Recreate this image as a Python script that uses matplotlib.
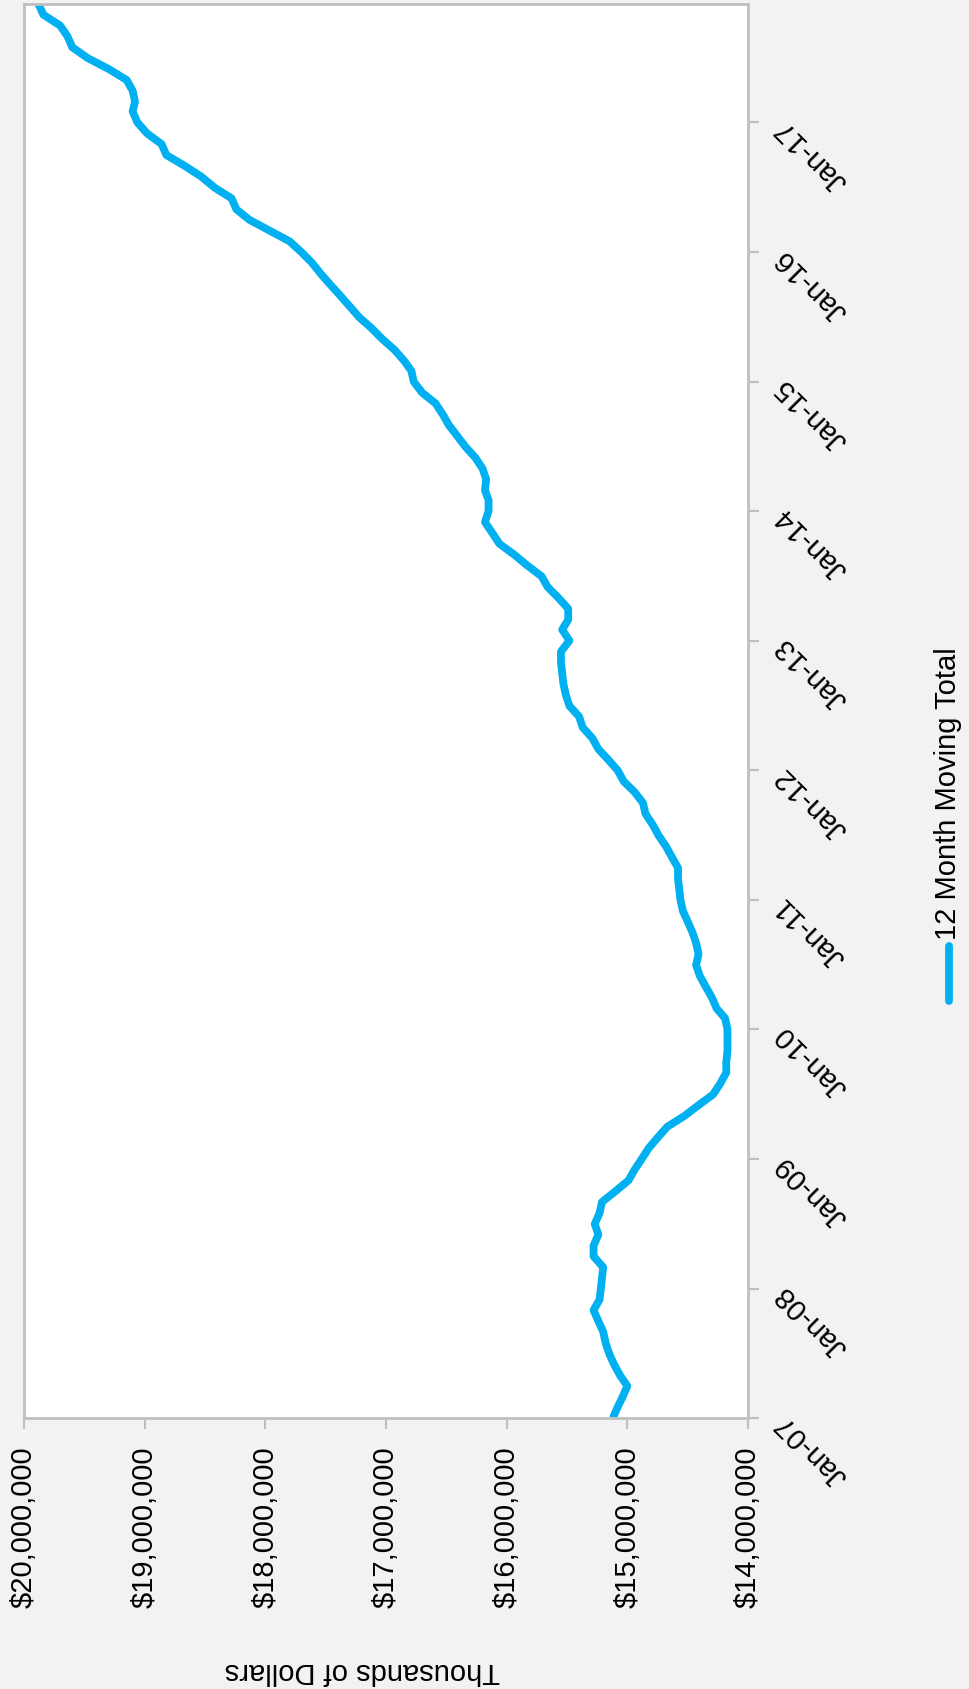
import numpy as np
import pandas as pd
import matplotlib
matplotlib.use("Agg")
import matplotlib.pyplot as plt
import matplotlib.dates as mdates
from matplotlib.ticker import FuncFormatter, MultipleLocator
from matplotlib.lines import Line2D

# 12 month moving total, millions of dollars, monthly Jan-2007 .. Dec-2017
moving_total_m = [
    15.12, 15.08, 15.04, 15.00, 15.06, 15.11, 15.15, 15.18, 15.20, 15.24, 15.28, 15.23,
    15.22, 15.21, 15.20, 15.28, 15.28, 15.24, 15.27, 15.23, 15.21, 15.10, 14.99, 14.94,
    14.88, 14.82, 14.75, 14.67, 14.53, 14.41, 14.29, 14.23, 14.18, 14.18, 14.17, 14.17,
    14.17, 14.19, 14.26, 14.30, 14.35, 14.40, 14.43, 14.41, 14.43, 14.46, 14.50, 14.54,
    14.56, 14.57, 14.58, 14.58, 14.63, 14.68, 14.74, 14.79, 14.85, 14.87, 14.94, 15.03,
    15.08, 15.16, 15.24, 15.29, 15.37, 15.40, 15.48, 15.51, 15.53, 15.54, 15.55, 15.55,
    15.48, 15.54, 15.49, 15.49, 15.57, 15.66, 15.71, 15.83, 15.94, 16.06, 16.12, 16.18,
    16.15, 16.15, 16.18, 16.17, 16.20, 16.26, 16.34, 16.41, 16.48, 16.53, 16.59, 16.70,
    16.77, 16.79, 16.85, 16.93, 17.03, 17.12, 17.22, 17.30, 17.38, 17.46, 17.54, 17.61,
    17.70, 17.80, 17.96, 18.13, 18.24, 18.28, 18.42, 18.53, 18.67, 18.82, 18.86, 18.98,
    19.06, 19.10, 19.08, 19.10, 19.15, 19.30, 19.47, 19.60, 19.64, 19.70, 19.84, 19.88,
]
months = pd.date_range("2007-01-01", periods=len(moving_total_m), freq="MS")
series_name = "12 Month Moving Total"
value_label = "Thousands of Dollars"

line_color = "#00B0F0"
grey = "#BFBFBF"
plt.rcParams["font.family"] = ["Liberation Sans", "DejaVu Sans"]
fs = 21

W, H = 969, 1690
fig = plt.figure(figsize=(W / 100, H / 100), dpi=100, facecolor="#F2F2F2")
# chart is laid out turned on its side: values run across, dates run up
ax = fig.add_axes([24 / W, 271 / H, 724 / W, 1414 / H])
ax.set_facecolor("white")

vals = np.array(moving_total_m) * 1e6
ax.plot(vals, months, color=line_color, lw=5.6, solid_joinstyle="round",
        solid_capstyle="butt")

ax.set_xlim(20e6, 14e6)
ax.set_ylim(months[0], months[-1])

ax.xaxis.set_major_locator(MultipleLocator(1e6))
ax.xaxis.set_major_formatter(FuncFormatter(lambda v, p: f"${v:,.0f}"))
ax.yaxis.set_major_locator(mdates.YearLocator())
ax.yaxis.set_major_formatter(mdates.DateFormatter("%b-%y"))
ax.yaxis.tick_right()

for s in ax.spines.values():
    s.set_color(grey)
    s.set_linewidth(2)

ax.tick_params(axis="x", direction="out", length=8, width=1.5, color=grey,
               pad=12, labelsize=fs, labelrotation=90)
ax.tick_params(axis="y", direction="out", length=8, width=1.5, color=grey,
               pad=15, labelsize=fs)
for lab in ax.get_xticklabels():
    lab.set_va("top")
    lab.set_ha("center")
for lab in ax.get_yticklabels():
    lab.set_rotation(135)
    lab.set_rotation_mode("anchor")
    lab.set_ha("right")
    lab.set_va("center")

# value axis title, upside down along the bottom
fig.text(362 / W, 1 - 1671 / H, value_label, rotation=180, ha="center",
         va="center", fontsize=fs)

# legend, standing up on the right
fig.add_artist(Line2D([949 / W, 949 / W], [1 - 1002 / H, 1 - 947 / H],
                      transform=fig.transFigure, color=line_color, lw=5.6,
                      solid_capstyle="round"))
fig.text(948 / W, 1 - 940 / H, series_name, rotation=90, ha="center",
         va="bottom", fontsize=fs)

fig.savefig("out.png", dpi=100, facecolor=fig.get_facecolor())
